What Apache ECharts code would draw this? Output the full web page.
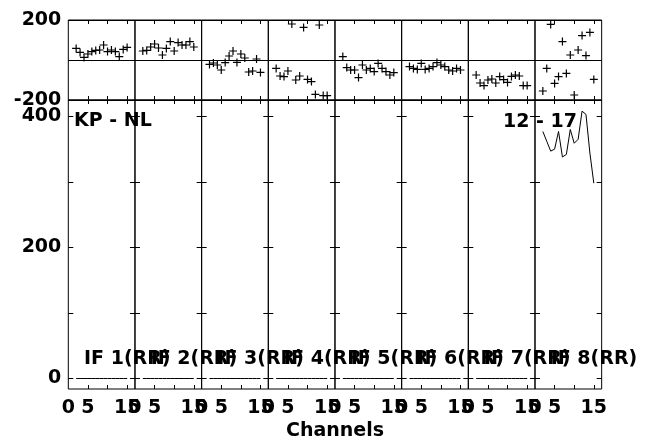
<!DOCTYPE html>
<html><head><meta charset="utf-8">
<script src="https://cdn.jsdelivr.net/npm/echarts@6/dist/echarts.min.js"></script>
<style>html,body{margin:0;padding:0;background:#fff}#c{width:645px;height:442px}</style>
</head><body><div id="c"></div>
<script>
// ---- data ----
const channels = [2, 3, 4, 5, 6, 7, 8, 9, 10, 11, 12, 13, 14, 15];
const phaseIF1 = [58, 38, 13, 30, 42, 48, 50, 75, 42, 50, 42, 17, 53, 63];
const phaseIF2 = [45, 48, 65, 80, 60, 25, 58, 92, 45, 87, 75, 75, 92, 65];
const phaseIF3 = [-22, -15, -25, -50, -13, 20, 45, -12, 30, 10, -60, -55, 5, -62];
const phaseIF4 = [-42, -80, -83, -55, 180, -100, -80, 163, -97, -108, -172, 175, -178, -178];
const phaseIF5 = [17, -38, -50, -50, -88, -25, -50, -42, -58, -17, -42, -58, -75, -63];
const phaseIF6 = [-33, -42, -47, -17, -47, -42, -33, -13, -25, -33, -50, -55, -42, -50];
const phaseIF7 = [-75, -115, -128, -100, -95, -115, -83, -98, -112, -82, -75, -80, -128, -128];
const phaseIF8 = [-155, -42, 178, -117, -83, 92, -67, 25, -175, 50, 122, 22, 138, -97];
const ampIF1to7 = [0, 0, 0, 0, 0, 0, 0, 0, 0, 0, 0, 0, 0, 0];
const ampIF8 = [377, 362, 347, 350, 377, 338, 342, 380, 359, 365, 408, 403, 344, 298];
const panelLabels = ['IF 1(RR)', 'IF 2(RR)', 'IF 3(RR)', 'IF 4(RR)', 'IF 5(RR)', 'IF 6(RR)', 'IF 7(RR)', 'IF 8(RR)'];
const baselineLabel = 'KP - NL';
const timeLabel = '12 - 17';
const xAxisTitle = 'Channels';
const phaseTickLabels = [-200, 200];
const ampTickLabels = [0, 200, 400];
const ampTickMarks = [0, 100, 200, 300, 400];
const chanTickLabels = [0, 5, 15];
const chanTickMarks = [5, 10, 15];

const phases = [phaseIF1, phaseIF2, phaseIF3, phaseIF4, phaseIF5, phaseIF6, phaseIF7, phaseIF8];
const amps = [ampIF1to7, ampIF1to7, ampIF1to7, ampIF1to7, ampIF1to7, ampIF1to7, ampIF1to7, ampIF8];

// ---- layout ----
const L = 68.3, W = 66.67, TOP_T = 20, TOP_H = 80, BOT_T = 100, BOT_H = 289;
const FONT = 'DejaVu Sans';
const FS = 19;
const lblStyle = {color: '#000', fontFamily: FONT, fontWeight: 'bold', fontSize: FS};
const noLine = {show: false, onZero: false};

const grid = [], xAxis = [], yAxis = [], series = [];
for (let g = 0; g < 16; g++) {
  const i = g % 8, isTop = g < 8;
  grid.push({left: L + i * W, width: W, top: isTop ? TOP_T : BOT_T, height: isTop ? TOP_H : BOT_H,
    show: true, borderColor: '#000', borderWidth: 1, backgroundColor: 'transparent'});
  const xTick = {show: true, inside: true, length: 4, lineStyle: {color: '#000', width: 1}, customValues: chanTickMarks};
  xAxis.push({type: 'value', gridIndex: g, min: 0, max: 17, position: 'bottom',
    axisLine: noLine, splitLine: {show: false}, axisTick: xTick,
    axisLabel: Object.assign({show: !isTop, margin: 10, customValues: chanTickLabels}, lblStyle)});
  xAxis.push({type: 'value', gridIndex: g, min: 0, max: 17, position: 'top',
    axisLine: noLine, splitLine: {show: false}, axisTick: xTick, axisLabel: {show: false}});
  if (isTop) {
    yAxis.push({type: 'value', gridIndex: g, min: -200, max: 200, interval: 200, position: 'left',
      axisLine: noLine, axisTick: {show: false},
      splitLine: {show: true, lineStyle: {color: '#000', width: 1}},
      axisLabel: Object.assign({show: i === 0, margin: 7, customValues: phaseTickLabels}, lblStyle)});
    yAxis.push({type: 'value', gridIndex: g, min: -200, max: 200, interval: 200, position: 'right',
      axisLine: noLine, axisTick: {show: false}, splitLine: {show: false}, axisLabel: {show: false}});
    series.push({type: 'scatter', xAxisIndex: 2 * g, yAxisIndex: 2 * g,
      data: channels.map((c, k) => [c, phases[i][k]]),
      symbol: 'path://M0,5L10,5M5,0L5,10', symbolSize: 8,
      itemStyle: {color: 'none', borderColor: '#000', borderWidth: 1.2, opacity: 1},
      emphasis: {disabled: true}, silent: true});
  } else {
    const yTick = {show: true, inside: true, length: 5, lineStyle: {color: '#000', width: 1}, customValues: ampTickMarks};
    yAxis.push({type: 'value', gridIndex: g, min: -16, max: 425, position: 'left',
      axisLine: noLine, axisTick: yTick, splitLine: {show: false},
      axisLabel: Object.assign({show: i === 0, margin: 7, customValues: ampTickLabels}, lblStyle)});
    yAxis.push({type: 'value', gridIndex: g, min: -16, max: 425, position: 'right',
      axisLine: noLine, axisTick: yTick, splitLine: {show: false}, axisLabel: {show: false}});
    series.push({type: 'line', xAxisIndex: 2 * g, yAxisIndex: 2 * g,
      data: channels.map((c, k) => [c, amps[i][k]]),
      symbol: 'none', showSymbol: false, lineStyle: {color: '#000', width: 1},
      emphasis: {disabled: true}, silent: true});
  }
}

function txt(text, x, y, align) {
  return {type: 'text', x: x, y: y, silent: true, z: 100,
    style: {text: text, fill: '#000', font: 'bold ' + FS + 'px "' + FONT + '"',
      textAlign: align || 'left', align: align || 'left', textVerticalAlign: 'middle', verticalAlign: 'middle'}};
}
const graphic = [];
panelLabels.forEach((t, i) => graphic.push(txt(t, 84 + i * W, 359)));
graphic.push(txt(baselineLabel, 74, 121));
graphic.push(txt(timeLabel, 503, 122));
graphic.push(txt(xAxisTitle, L + 4 * W, 431, 'center'));

const chart = echarts.init(document.getElementById('c'), null, {renderer: 'canvas'});
chart.setOption({animation: false, backgroundColor: '#fff', grid, xAxis, yAxis, series, graphic});
</script></body></html>
